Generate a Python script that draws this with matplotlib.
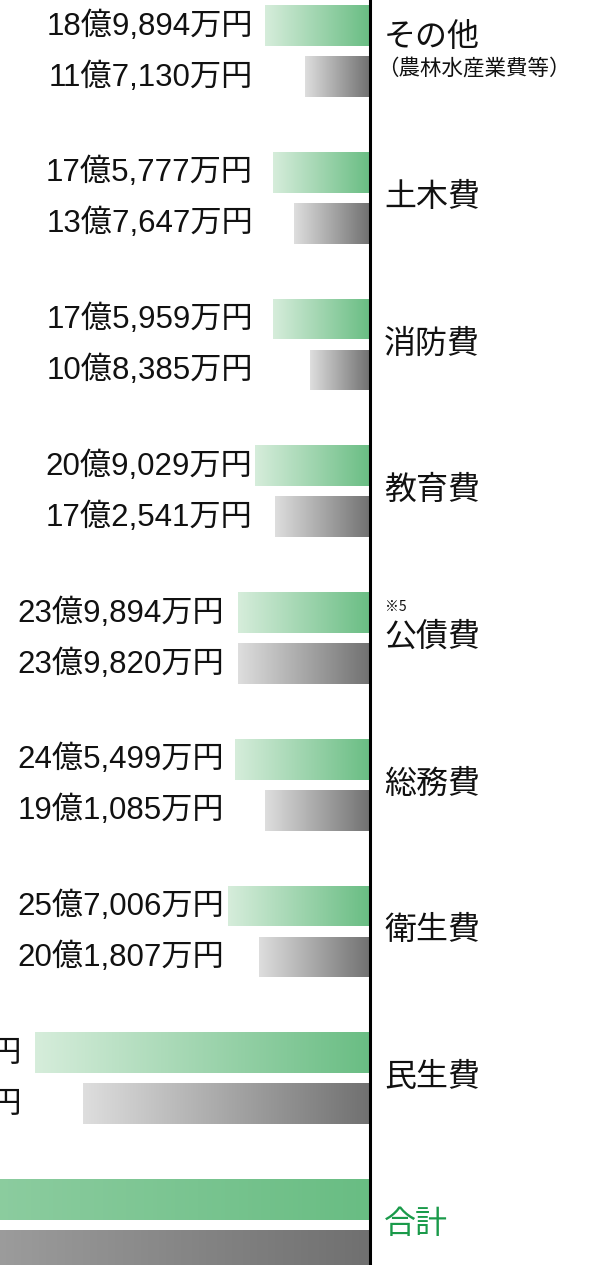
import matplotlib
matplotlib.use("Agg")
import matplotlib.pyplot as plt
import numpy as np
from matplotlib.colors import LinearSegmentedColormap

# 歳出の目的別内訳 (単位: 万円) 上段=緑 / 下段=灰
categories = ["その他", "土木費", "消防費", "教育費", "公債費", "総務費", "衛生費", "民生費", "合計"]
sub_labels = {"その他": "（農林水産業費等）"}
notes = {"公債費": "※5"}
green_vals = [189894, 175777, 175959, 209029, 239894, 245499, 257006, 608000]
gray_vals = [117130, 137647, 108385, 172541, 239820, 191085, 201807, 521000]
green_vals = green_vals + [sum(green_vals)]
gray_vals = gray_vals + [sum(gray_vals)]

# layout (pixels)
W, H = 594, 1265
AXIS_X = 370
PX_PER_OKU = 5.51
GROUP_TOP = 5
GROUP_STEP = 146.75
BAR_H = 41
BAR_GAP = 10
LABEL_RIGHT = [253, 253, 253, 252, 224, 224, 224, 22, None]


def to_oku(man):
    return man / 10000.0


def px2v(px):
    return (AXIS_X - px) / PX_PER_OKU


def fmt(man):
    oku, rest = divmod(man, 10000)
    return f"{oku}億{rest:,}万円"


green_cmap = LinearSegmentedColormap.from_list("g", ["#d6eddb", "#69bd83"])
gray_cmap = LinearSegmentedColormap.from_list("k", ["#dedede", "#707070"])

fig = plt.figure(figsize=(W / 100, H / 100), dpi=100)
ax = fig.add_axes([0, 0, 1, 1])
ax.set_xlim(px2v(0), px2v(W))
ax.set_ylim(H, 0)
ax.axis("off")

num_font = ["Liberation Sans", "Noto Sans CJK JP"]
cat_font = ["Noto Sans CJK JP", "DejaVu Sans"]
grad = np.linspace(0, 1, 256).reshape(1, -1)

for i, cat in enumerate(categories):
    top = GROUP_TOP + i * GROUP_STEP
    rows = [(top, green_vals[i], green_cmap), (top + BAR_H + BAR_GAP, gray_vals[i], gray_cmap)]
    for y_top, val, cmap in rows:
        v = to_oku(val)
        bar = ax.barh(y_top + BAR_H / 2, v, height=BAR_H, left=0,
                      facecolor="none", edgecolor="none")[0]
        im = ax.imshow(grad, cmap=cmap, aspect="auto",
                       extent=[v, 0, y_top + BAR_H, y_top], zorder=1)
        im.set_clip_path(bar)
        if LABEL_RIGHT[i] is None:
            continue  # 合計の金額は図の外側
        ax.text(px2v(LABEL_RIGHT[i]), y_top + BAR_H / 2 + 1, fmt(val), ha="right", va="center",
                fontsize=22.5, family=num_font, color="#111111")

    mid = top + 45
    color = "#1a9a4a" if cat == "合計" else "#111111"
    if cat in sub_labels:
        ax.text(px2v(384), mid - 13, cat, ha="left", va="center",
                fontsize=23, family=cat_font, color=color)
        ax.text(px2v(377), mid + 19, sub_labels[cat], ha="left", va="center",
                fontsize=15.5, family=cat_font, color=color)
    else:
        ax.text(px2v(384), mid, cat, ha="left", va="center",
                fontsize=23, family=cat_font, color=color)
    if cat in notes:
        ax.text(px2v(385), mid - 30, notes[cat], ha="left", va="center",
                fontsize=10, family=cat_font, color="#111111")

ax.axvline(0, color="black", lw=2.2, zorder=3)
ax.set_xlim(px2v(0), px2v(W))
ax.set_ylim(H, 0)

fig.savefig("out.png", dpi=100)
